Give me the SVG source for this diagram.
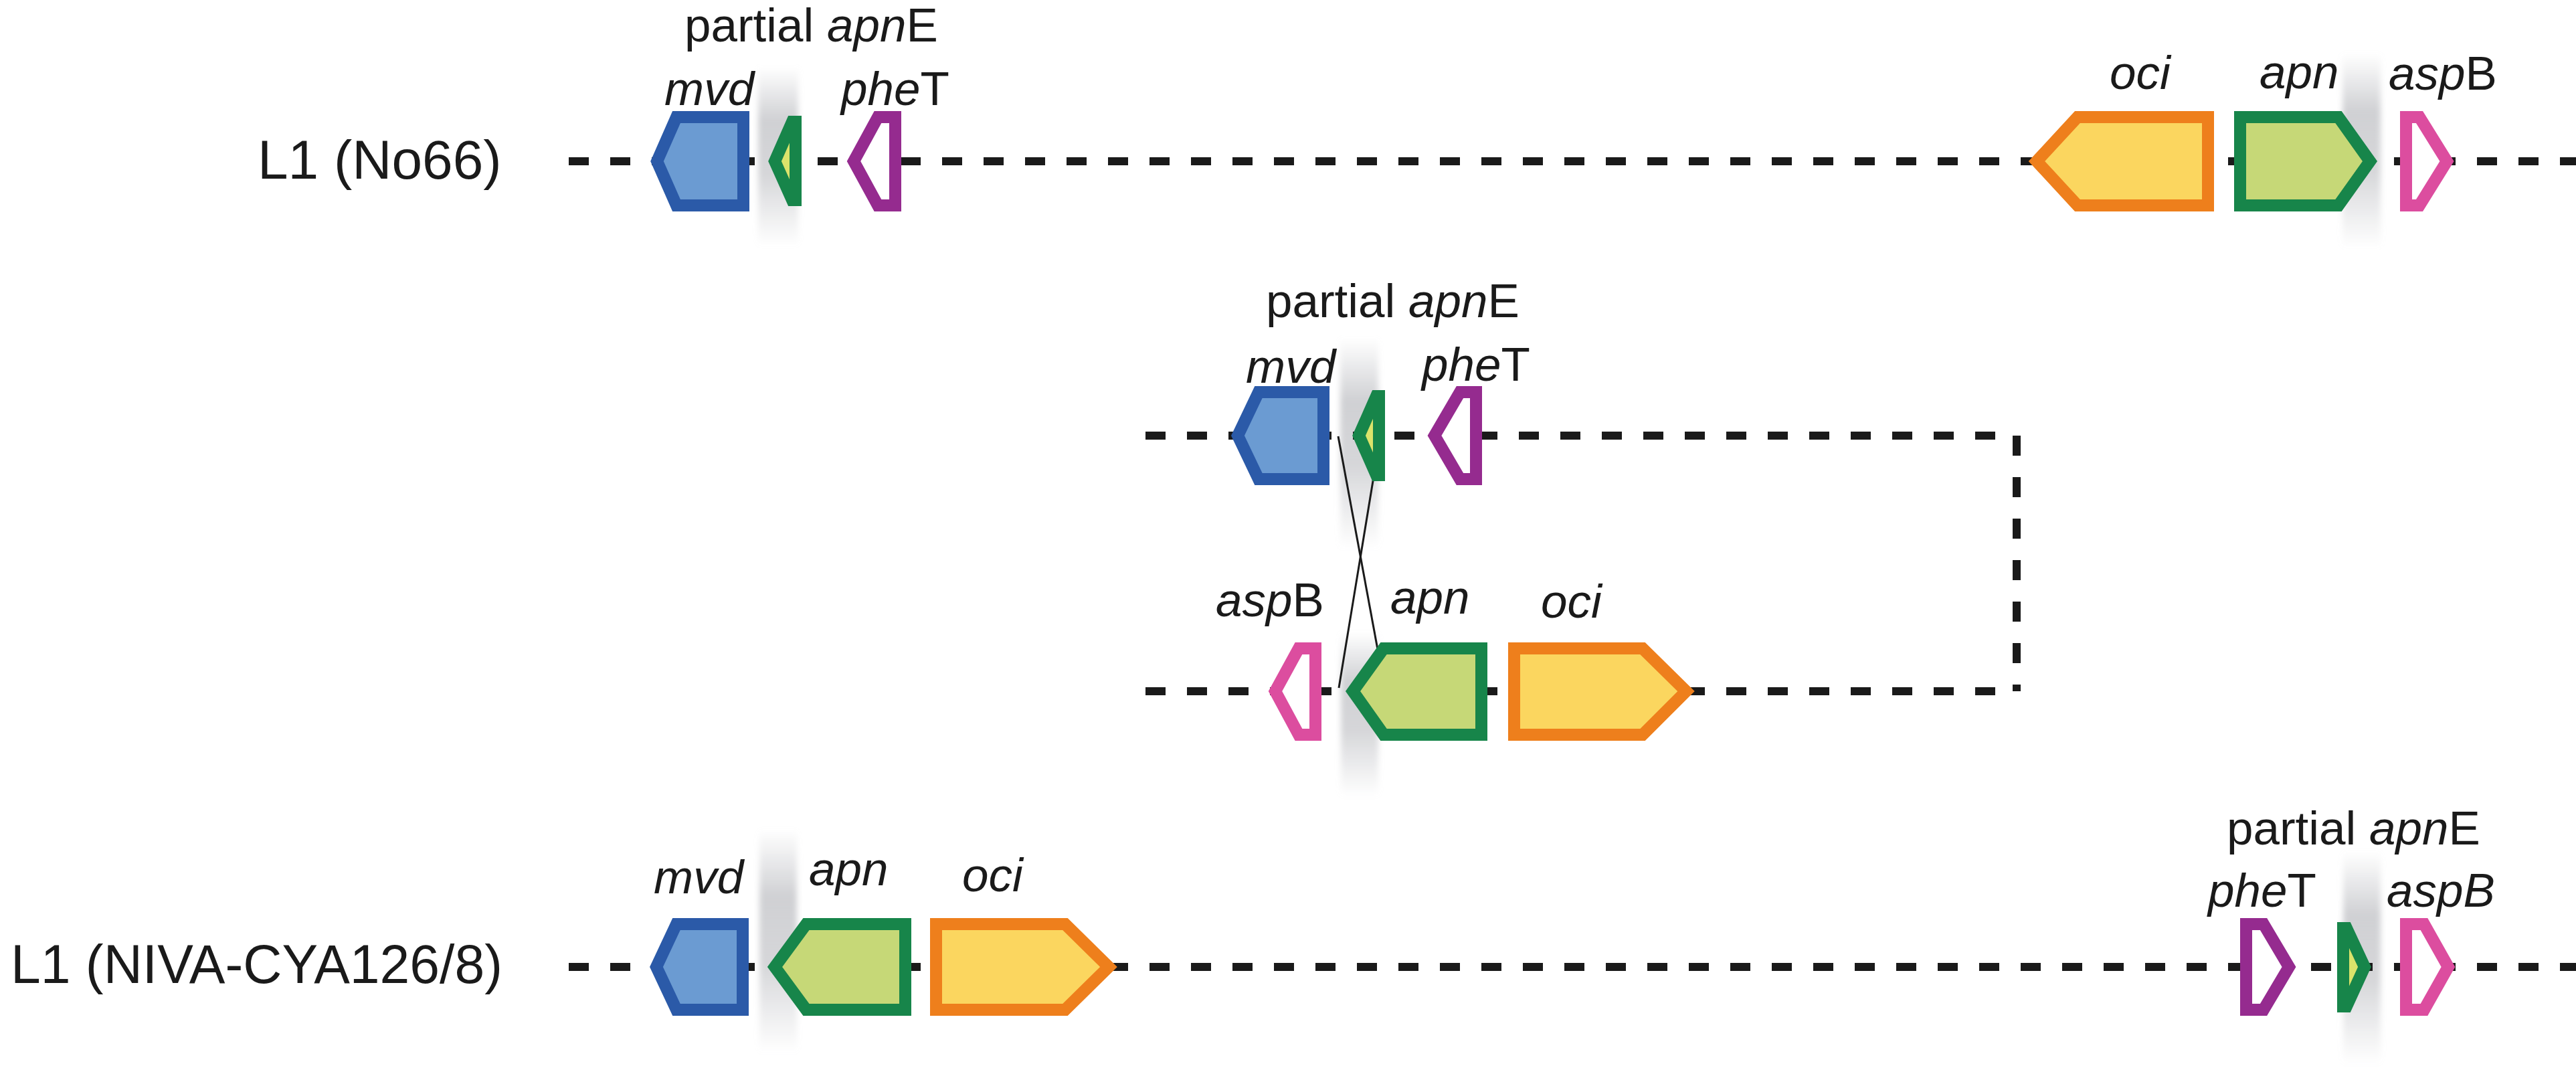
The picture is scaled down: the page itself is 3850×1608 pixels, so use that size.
<svg xmlns="http://www.w3.org/2000/svg" width="3850" height="1608" viewBox="0 0 3850 1608">
<style>
.t{font-family:"Liberation Sans",Arial,sans-serif;fill:#1a1a1a}
.g{font-size:71px}
.r{font-size:82px}
.i{font-style:italic}
.bb{fill:none;stroke:#1a1a1a;stroke-width:12;stroke-dasharray:30 32}
.gene{stroke-width:18;stroke-linejoin:miter}
.mvd{fill:#6b9bd2;stroke:#2b5aa8}
.apn{fill:#c6d877;stroke:#17854a}
.apne{fill:#dbe36b;stroke:#17854a}
.oci{fill:#fbd65f;stroke:#ee7f1c}
.phe{fill:#ffffff;stroke:#952b8f}
.asp{fill:#ffffff;stroke:#dc4d9f}
.band{fill:url(#bandGrad)}
.cross{stroke:#1a1a1a;stroke-width:3;fill:none}
</style>
<defs>
<linearGradient id="bandGrad" x1="0" y1="0" x2="0" y2="1">
<stop offset="0" stop-color="#c4c5c9" stop-opacity="0"/>
<stop offset="0.3" stop-color="#c4c5c9" stop-opacity="0.8"/>
<stop offset="0.6" stop-color="#c4c5c9" stop-opacity="0.7"/>
<stop offset="1" stop-color="#c4c5c9" stop-opacity="0"/>
</linearGradient>
<filter id="soft" x="-20%" y="-5%" width="140%" height="110%"><feGaussianBlur stdDeviation="4"/></filter>
</defs>
<rect width="3850" height="1608" fill="#ffffff"/>

<g id="bands" filter="url(#soft)">
<rect class="band" x="1133" y="100" width="60" height="267"/>
<rect class="band" x="3501" y="80" width="57" height="290"/>
<rect class="band" x="2003" y="505" width="57" height="315"/>
<rect class="band" x="2004" y="945" width="56" height="245"/>
<rect class="band" x="1135" y="1240" width="56" height="333"/>
<rect class="band" x="3502" y="1273" width="56" height="317"/>
</g>

<g id="connectors">
<path class="bb" d="M850,241 H3850"/>
<path class="bb" d="M1712,651 H3014 V1033"/>
<path class="bb" d="M1712,1033 H3014"/>
<path class="bb" d="M850,1445 H3850"/>
<line class="cross" x1="2000" y1="652" x2="2070" y2="1030"/>
<line class="cross" x1="2063" y1="652" x2="2001" y2="1028"/>
</g>

<g id="labels-rows">
<text class="t r" x="385" y="267">L1 (No66)</text>
<text class="t r" x="16" y="1469" textLength="735" lengthAdjust="spacingAndGlyphs">L1 (NIVA-CYA126/8)</text>
</g>

<g id="row1">
<g id="r1-mvd"><polygon class="gene mvd" points="1111,175 1011,175 982,241 1011,307 1111,307"/><text class="t g i" x="993" y="157">mvd</text></g>
<g id="r1-apnE"><polygon class="gene apne" points="1189,182 1184,182 1158,241 1184,299 1189,299"/><text class="t g" x="1023" y="62">partial <tspan class="i">apn</tspan>E</text></g>
<g id="r1-pheT"><polygon class="gene phe" points="1338,175 1312,175 1276,241 1312,307 1338,307"/><text class="t g" x="1257" y="157"><tspan class="i">phe</tspan>T</text></g>
<g id="r1-oci"><polygon class="gene oci" points="3300,175 3105,175 3044,241 3105,307 3300,307"/><text class="t g i" x="3153" y="133">oci</text></g>
<g id="r1-apn"><polygon class="gene apn" points="3348,175 3495,175 3542,241 3495,307 3348,307"/><text class="t g i" x="3377" y="132">apn</text></g>
<g id="r1-aspB"><polygon class="gene asp" points="3596,175 3616,175 3657,241 3616,307 3596,307"/><text class="t g" x="3570" y="134"><tspan class="i">asp</tspan>B</text></g>
</g>

<g id="row2a">
<g id="r2-mvd"><polygon class="gene mvd" points="1978,586 1881,586 1850,651 1881,716 1978,716"/><text class="t g i" x="1862" y="572">mvd</text></g>
<g id="r2-apnE"><polygon class="gene apne" points="2061,592 2057,592 2031,651 2057,710 2061,710"/><text class="t g" x="1892" y="474">partial <tspan class="i">apn</tspan>E</text></g>
<g id="r2-pheT"><polygon class="gene phe" points="2206,586 2182,586 2144,651 2182,716 2206,716"/><text class="t g" x="2125" y="569"><tspan class="i">phe</tspan>T</text></g>
</g>

<g id="row2b">
<g id="r2-aspB"><polygon class="gene asp" points="1966,969 1941,969 1906,1033 1941,1098 1966,1098"/><text class="t g" x="1817" y="921"><tspan class="i">asp</tspan>B</text></g>
<g id="r2-apn"><polygon class="gene apn" points="2214,969 2068,969 2022,1033 2068,1098 2214,1098"/><text class="t g i" x="2078" y="917">apn</text></g>
<g id="r2-oci"><polygon class="gene oci" points="2263,969 2455,969 2520,1033 2455,1098 2263,1098"/><text class="t g i" x="2303" y="923">oci</text></g>
</g>

<g id="row3">
<g id="r3-mvd"><polygon class="gene mvd" points="1110,1381 1011,1381 981,1445 1011,1509 1110,1509"/><text class="t g i" x="977" y="1335">mvd</text></g>
<g id="r3-apn"><polygon class="gene apn" points="1353,1381 1205,1381 1158,1445 1205,1509 1353,1509"/><text class="t g i" x="1209" y="1323">apn</text></g>
<g id="r3-oci"><polygon class="gene oci" points="1399,1381 1592,1381 1657,1445 1592,1509 1399,1509"/><text class="t g i" x="1438" y="1332">oci</text></g>
<g id="r3-pheT"><polygon class="gene phe" points="3357,1381 3383,1381 3421,1445 3383,1509 3357,1509"/><text class="t g" x="3300" y="1355"><tspan class="i">phe</tspan>T</text></g>
<g id="r3-apnE"><polygon class="gene apne" points="3502,1387 3507,1387 3534,1445 3507,1504 3502,1504"/><text class="t g" x="3328" y="1262">partial <tspan class="i">apn</tspan>E</text></g>
<g id="r3-aspB"><polygon class="gene asp" points="3596,1381 3623,1381 3659,1445 3623,1509 3596,1509"/><text class="t g i" x="3567" y="1355">aspB</text></g>
</g>
</svg>
